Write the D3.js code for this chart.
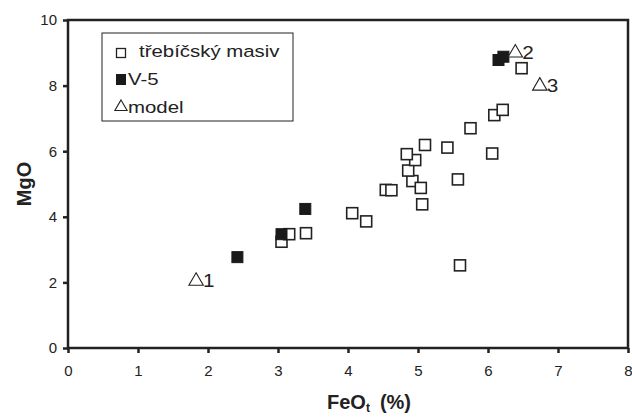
<!DOCTYPE html>
<html lang="cs">
<head>
<meta charset="UTF-8">
<title>MgO vs FeOt</title>
<script src="https://cdn.jsdelivr.net/npm/d3@7/dist/d3.min.js"></script>
<style>
  body { margin: 0; background: #fff; }
  text { font-family: "Liberation Sans", Arial, sans-serif; fill: #222; }
</style>
</head>
<body>
<script>
// třebíčský masiv (open squares)
var masivFe = [3.05, 3.16, 3.40, 4.06, 4.26, 4.54, 4.62, 4.92, 5.04, 5.06, 5.57, 5.60, 4.86, 4.96, 4.84, 5.10, 5.42, 6.06, 5.75, 6.09, 6.21, 6.48];
var masivMg = [3.24, 3.47, 3.50, 4.11, 3.86, 4.82, 4.81, 5.09, 4.88, 4.38, 5.14, 2.52, 5.41, 5.73, 5.91, 6.19, 6.11, 5.93, 6.70, 7.10, 7.26, 8.53];
// V-5 (filled squares)
var v5Fe = [2.42, 3.05, 3.39, 6.15, 6.22];
var v5Mg = [2.77, 3.47, 4.24, 8.78, 8.88];
// model (triangles)
var modelFe = [1.83, 6.39, 6.74];
var modelMg = [2.07, 9.03, 8.02];
var modelLabels = ["1", "2", "3"];

var xTicks = [0, 1, 2, 3, 4, 5, 6, 7, 8];
var yTicks = [0, 2, 4, 6, 8, 10];
var legendLabels = ["třebíčský masiv", "V-5", "model"];

var width = 632, height = 417;
var pLeft = 68, pRight = 628, pTop = 20, pBottom = 348;

var svg = d3.select("body").append("svg")
    .attr("width", width)
    .attr("height", height);

var x = d3.scaleLinear().domain([0, 8]).range([pLeft, pRight]);
var y = d3.scaleLinear().domain([0, 10]).range([pBottom, pTop]);

// rámeček grafu
svg.append("rect")
    .attr("x", pLeft).attr("y", pTop)
    .attr("width", pRight - pLeft).attr("height", pBottom - pTop)
    .attr("fill", "none")
    .attr("stroke", "#222")
    .attr("stroke-width", 2.5);

// osy
var xAxis = svg.append("g")
    .attr("transform", "translate(0," + pBottom + ")")
    .call(d3.axisBottom(x).tickValues(xTicks).tickSize(5).tickPadding(12).tickFormat(d3.format("d")));
var yAxis = svg.append("g")
    .attr("transform", "translate(" + pLeft + ",0)")
    .call(d3.axisLeft(y).tickValues(yTicks).tickSize(5).tickPadding(6).tickFormat(d3.format("d")));

[xAxis, yAxis].forEach(function (a) {
    a.attr("font-size", 15).attr("font-family", "Liberation Sans, Arial, sans-serif");
    a.select(".domain").remove();
    a.selectAll(".tick line").attr("stroke", "#222").attr("stroke-width", 2.5);
    a.selectAll(".tick text").attr("fill", "#333");
});

// popisky os
var xl = svg.append("text")
    .attr("x", 327)
    .attr("y", 409)
    .style("font-size", "20px")
    .style("font-weight", "bold");
xl.append("tspan").text("FeO");
xl.append("tspan").text("t").attr("dy", 3).style("font-size", "12px");
xl.append("tspan").text("(%)").attr("dy", -3).attr("dx", 10);

svg.append("text")
    .attr("transform", "translate(31," + ((pTop + pBottom) / 2) + ") rotate(-90)")
    .attr("text-anchor", "middle")
    .style("font-size", "20px")
    .style("font-weight", "bold")
    .text("MgO");

var sq = 11;
var tri = d3.symbol().type(d3.symbolTriangle).size(90);
var triSmall = d3.symbol().type(d3.symbolTriangle).size(65);

// třebíčský masiv
svg.selectAll(".masiv")
    .data(masivFe)
    .enter()
    .append("rect")
    .attr("x", function (d) { return x(d) - sq / 2; })
    .attr("y", function (d, i) { return y(masivMg[i]) - sq / 2; })
    .attr("width", sq).attr("height", sq)
    .attr("fill", "#fff")
    .attr("stroke", "#222")
    .attr("stroke-width", 1.6);

// V-5
svg.selectAll(".v5")
    .data(v5Fe)
    .enter()
    .append("rect")
    .attr("x", function (d) { return x(d) - sq / 2; })
    .attr("y", function (d, i) { return y(v5Mg[i]) - sq / 2; })
    .attr("width", sq).attr("height", sq)
    .attr("fill", "#1a1a1a")
    .attr("stroke", "#1a1a1a");

// model
var mg = svg.selectAll(".model")
    .data(modelFe)
    .enter()
    .append("g")
    .attr("transform", function (d, i) { return "translate(" + x(d) + "," + y(modelMg[i]) + ")"; });
mg.append("path")
    .attr("d", tri)
    .attr("transform", "translate(0,1)")
    .attr("fill", "#fff")
    .attr("stroke", "#222")
    .attr("stroke-width", 1.1);
mg.append("text")
    .attr("transform", "translate(7,7) scale(1.15,1)")
    .style("font-size", "18px")
    .text(function (d, i) { return modelLabels[i]; });

// legenda
var lg = svg.append("g");
lg.append("rect")
    .attr("x", 102).attr("y", 33)
    .attr("width", 191).attr("height", 88)
    .attr("fill", "#fff")
    .attr("stroke", "#222")
    .attr("stroke-width", 1);

var rowY = [57, 85, 113];
lg.append("rect").attr("x", 116.5).attr("y", rowY[0] - 8.5).attr("width", 9).attr("height", 9)
    .attr("fill", "#fff").attr("stroke", "#222").attr("stroke-width", 1.3);
lg.append("rect").attr("x", 116).attr("y", rowY[1] - 11).attr("width", 10).attr("height", 11)
    .attr("fill", "#1a1a1a");
lg.append("path").attr("d", triSmall).attr("transform", "translate(121," + (rowY[2] - 6) + ")")
    .attr("fill", "#fff").attr("stroke", "#222").attr("stroke-width", 1.1);

var textX = [139, 128, 128];
lg.selectAll(".lt")
    .data(legendLabels)
    .enter()
    .append("text")
    .attr("transform", function (d, i) { return "translate(" + textX[i] + "," + rowY[i] + ") scale(1.2,1)"; })
    .style("font-size", "17px")
    .text(function (d) { return d; });
</script>
</body>
</html>
